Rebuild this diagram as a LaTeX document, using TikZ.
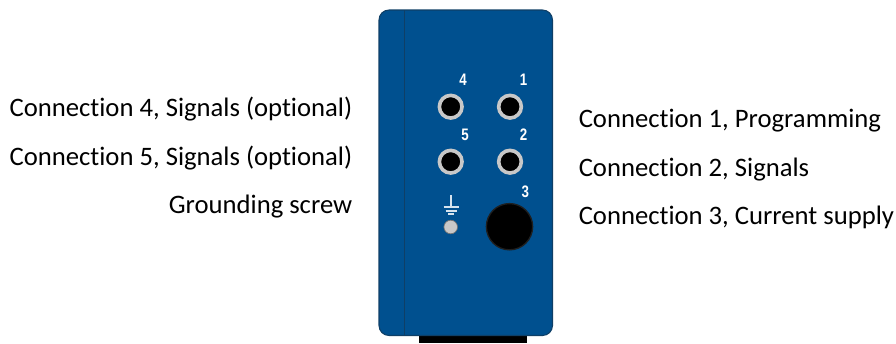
\documentclass[tikz,border=0pt]{standalone}
\usepackage{fontspec}
\setmainfont[Ligatures=NoCommon]{Carlito}
\newfontfamily\numfont{Liberation Sans}
\definecolor{panelblue}{HTML}{00508F}
\definecolor{edgeblue}{HTML}{0F3F66}
\definecolor{ringgray}{HTML}{C8C8C8}
\definecolor{symbolblue}{HTML}{D5E3EE}
\tikzset{
  x=0.75pt,y=-0.75pt,
  lbl/.style={inner sep=0pt,font=\fontsize{20}{22}\selectfont,text=black},
  num/.style={inner sep=0pt,text=white,xscale=0.8,font=\numfont\bfseries\fontsize{12.5}{13}\selectfont},
  jack/.style={circle,draw=ringgray,fill=black,line width=2.7pt,minimum size=17pt,inner sep=0pt},
  bigjack/.style={circle,draw=black!88,fill=black,line width=1pt,minimum size=34.7pt,inner sep=0pt},
  screw/.style={circle,draw=black!55,fill=ringgray,line width=0.5pt,minimum size=10.2pt,inner sep=0pt},
  gnd/.style={draw=symbolblue,line width=1.2pt},
}
\begin{document}
\begin{tikzpicture}
\useasboundingbox (0,0) rectangle (896,343);
\fill[black] (419,330) rectangle (527,343);
\draw[edgeblue,fill=panelblue,line width=0.8pt,rounded corners=7.5pt] (379,10) rectangle (552.5,335.5);
\draw[edgeblue,line width=0.8pt] (404.5,10) -- (404.5,335.5);
\node[jack] (j4) at (450.7,106.7) {};
\node[jack] (j1) at (510,106.7) {};
\node[jack] (j5) at (450.7,161.7) {};
\node[jack] (j2) at (510,161.7) {};
\node[bigjack] (j3) at (509.5,226.7) {};
\node[screw] (s) at (450.7,227) {};
\node[num] (n4) at (463,80) {4};
\node[num] (n1) at (523.7,80) {1};
\node[num] (n5) at (465,135) {5};
\node[num] (n2) at (523.7,135) {2};
\node[num] (n3) at (525.3,192) {3};
\draw[gnd] (451,195) -- (451,207);
\draw[gnd] (443.5,207) -- (458.5,207);
\draw[gnd] (445.5,210.7) -- (456.5,210.7);
\draw[gnd] (448,214) -- (454,214);
\node[lbl,anchor=base east] (l4) at (352.5,116.7) {Connection 4, Signals (optional)};
\node[lbl,anchor=base east] (l5) at (352.5,165) {Connection 5, Signals (optional)};
\node[lbl,anchor=base east] (lg) at (352.5,213) {Grounding screw};
\node[lbl,anchor=base west] (l1) at (578.5,127.7) {Connection 1, Programming};
\node[lbl,anchor=base west] (l2) at (578.5,176.7) {Connection 2, Signals};
\node[lbl,anchor=base west] (l3) at (578.5,224.5) {Connection 3, Current supply};
\end{tikzpicture}
\end{document}
